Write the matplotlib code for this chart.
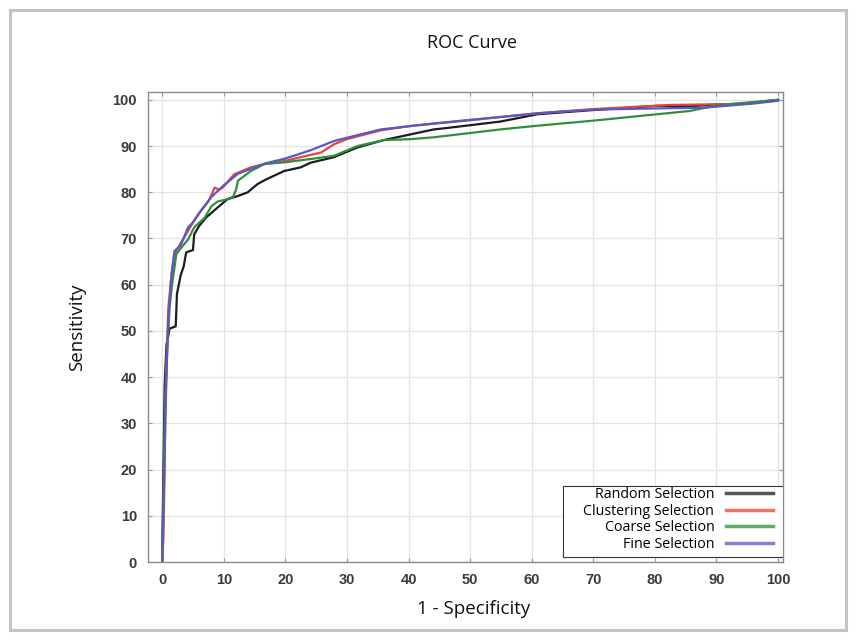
import matplotlib
matplotlib.use("Agg")
import matplotlib.pyplot as plt
from matplotlib.patches import Rectangle

# ---- data ----
random_x = [0, 0.1, 0.2, 0.4, 0.7, 1.0, 1.2, 2.2, 2.4, 3.0, 3.5, 3.9, 5.0, 5.2, 6.0, 7.1, 9.0, 10.6,
            12.3, 13.9, 15.5, 16.9, 19.8, 22.5, 24.1, 27.9, 31.7, 36.0, 44.1, 46.8, 54.9, 61.0,
            70.0, 80.3, 86.6, 90.0, 95.0, 100.0]
random_y = [0, 10, 20, 38, 47, 49, 50.5, 51, 58, 62, 64, 67, 67.5, 70.9, 72.7, 74.5, 76.7, 78.5,
            79.2, 80.0, 81.8, 82.8, 84.6, 85.4, 86.4, 87.6, 89.7, 91.3, 93.6, 94.0, 95.3, 96.9,
            97.8, 98.7, 98.7, 99.0, 99.2, 100.0]

clust_x = [0, 0.2, 0.4, 0.6, 1.0, 1.5, 2.0, 3.0, 4.2, 5.0, 6.3, 7.5, 8.2, 8.5, 9.3, 9.8, 11.7,
           14.4, 16.6, 20.0, 22.5, 25.8, 27.9, 30.0, 35.5, 40.0, 50.0, 61.0, 70.0, 82.5,
           93.4, 100.0]
clust_y = [0, 5, 20, 40, 55, 62, 66.6, 69, 71.6, 73.5, 76, 78, 80, 81, 80.6, 81, 83.9,
           85.4, 86.1, 86.8, 87.6, 88.6, 90.4, 91.5, 93.4, 94.3, 95.6, 97.1, 98.0, 98.9,
           99.1, 100.0]

coarse_x = [0, 0.2, 0.4, 0.8, 1.2, 1.6, 2.3, 3.1, 4.2, 5.2, 6.9, 8.0, 9.0, 10.6, 11.5, 12.0, 12.3,
            14.4, 16.6, 20.0, 24.1, 27.9, 31.7, 36.0, 40.4, 44.1, 54.9, 60.9, 70.0, 85.7,
            90.0, 100.0]
coarse_y = [0, 15, 30, 45, 55, 60, 66.6, 68, 69.8, 72.4, 74.5, 77, 78, 78.5, 79, 80.6, 82.5,
            84.6, 86.1, 86.5, 87.2, 87.9, 90.0, 91.3, 91.5, 91.9, 93.6, 94.4, 95.5, 97.6,
            98.8, 100.0]

fine_x = [0, 0.2, 0.5, 0.8, 1.0, 1.5, 2.0, 3.0, 4.2, 5.0, 6.0, 8.0, 10.0, 12.3, 16.6, 20.0, 24.1,
          27.9, 30.0, 35.5, 44.1, 54.9, 61.0, 70.0, 82.5, 87.9, 96.0, 100.0]
fine_y = [0, 10, 30, 45, 52, 62, 67.3, 68.5, 72.4, 73.5, 75.5, 79, 81.5, 84, 86.2, 87.3, 89.1,
          91.1, 91.8, 93.6, 94.9, 96.3, 97.1, 97.9, 98.2, 98.3, 99.2, 99.8]

series_names = ["Random Selection", "Clustering Selection", "Coarse Selection", "Fine Selection"]
series_colors = ["#1c1c1c", "#e2463c", "#2f8f3c", "#5b57c4"]

x_ticks = list(range(0, 101, 10))
y_ticks = list(range(0, 101, 10))

# ---- figure ----
fig = plt.figure(figsize=(8.56, 6.4), dpi=100)
fig.patches.append(Rectangle((10 / 856, 10 / 640), 836 / 856, 620 / 640, transform=fig.transFigure,
                             fill=False, edgecolor="#c4c4c4", linewidth=2.2))

ax = fig.add_axes([148 / 856, 78 / 640, 635 / 856, 470 / 640])

data = [(random_x, random_y), (clust_x, clust_y), (coarse_x, coarse_y), (fine_x, fine_y)]
for (xs, ys), name, col in zip(data, series_names, series_colors):
    ax.plot(xs, ys, color=col, linewidth=1.6, label=name, solid_joinstyle="round")

ax.set_xlim(-2.3, 100.8)
ax.set_ylim(0, 101.7)
ax.set_xticks(x_ticks)
ax.set_yticks(y_ticks)
ax.grid(True, color="#e4e4e4", linewidth=0.9)
ax.set_axisbelow(True)
for sp in ax.spines.values():
    sp.set_color("#8a8a8a")
    sp.set_linewidth(1.0)
ax.tick_params(direction="in", length=3, color="#9a9a9a", top=True, right=True,
               labelsize=10.5, labelcolor="#3a3a3a")
ax.tick_params(axis="x", pad=8)
ax.tick_params(axis="y", pad=8)
for lbl in ax.get_xticklabels() + ax.get_yticklabels():
    lbl.set_fontfamily("Liberation Sans")
    lbl.set_fontweight("bold")

# legend frame (wider than the content, as in the reference)
ax.add_patch(Rectangle((415 / 635, 5 / 470), 220 / 635, 71 / 470, transform=ax.transAxes,
                       facecolor="white", edgecolor="#333333", linewidth=0.8, zorder=4.9))

leg = ax.legend(loc="lower right", bbox_to_anchor=(1.0 - 5 / 635, 5 / 470), borderaxespad=0.0,
                markerfirst=False, frameon=False,
                handlelength=3.3, handletextpad=0.8, labelspacing=0.12,
                borderpad=0.35, prop={"family": "Open Sans", "size": 10.3})
for t in leg.get_texts():
    t.set_ha("right")
for h in leg.get_lines():
    h.set_linewidth(2.5)
    h.set_alpha(0.75)

fig.text(472 / 856, 1 - 43 / 640, "ROC Curve", ha="center", va="center",
         family="Open Sans", fontsize=13, color="#111111")
fig.text(474 / 856, 1 - 609 / 640, "1 - Specificity", ha="center", va="center",
         family="Open Sans", fontsize=13.5, color="#111111")
fig.text(77 / 856, 1 - 327 / 640, "Sensitivity", ha="center", va="center", rotation=90,
         family="Open Sans", fontsize=13.5, color="#111111")

fig.savefig("out.png", dpi=100)
